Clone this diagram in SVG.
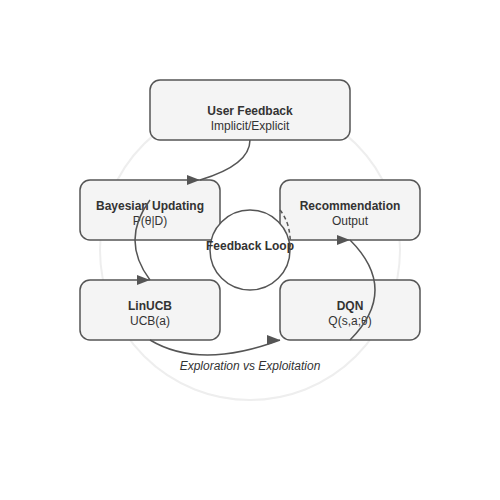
<svg xmlns="http://www.w3.org/2000/svg" width="500" height="500" viewBox="0 0 500 500">
<defs>
<style>
.box{fill:#f4f4f4;stroke:#555;stroke-width:1.5}
.t{font-family:"Liberation Sans",Arial,sans-serif;font-size:12px;fill:#333;text-anchor:middle}
.b{font-weight:bold}
.c{fill:none;stroke:#555;stroke-width:1.5}
</style>
<marker id="arr" markerUnits="userSpaceOnUse" markerWidth="14" markerHeight="10" refX="13" refY="5" orient="0">
<path d="M0,0 L13,5 L0,10 z" fill="#555"/>
</marker>
</defs>
<rect width="500" height="500" fill="#fff"/>
<circle cx="250" cy="250" r="150" fill="none" stroke="#eee" stroke-width="2"/>
<g id="user-feedback">
<rect class="box" x="150" y="80" width="200" height="60" rx="10"/>
<text class="t b" x="250" y="115">User Feedback</text>
<text class="t" x="250" y="130">Implicit/Explicit</text>
</g>
<g id="bayesian">
<rect class="box" x="80" y="180" width="140" height="60" rx="10"/>
<text class="t b" x="150" y="210">Bayesian Updating</text>
<text class="t" x="150" y="225">P(θ|D)</text>
</g>
<g id="recommendation">
<rect class="box" x="280" y="180" width="140" height="60" rx="10"/>
<text class="t b" x="350" y="210">Recommendation</text>
<text class="t" x="350" y="225">Output</text>
</g>
<g id="linucb">
<rect class="box" x="80" y="280" width="140" height="60" rx="10"/>
<text class="t b" x="150" y="310">LinUCB</text>
<text class="t" x="150" y="325">UCB(a)</text>
</g>
<g id="dqn">
<rect class="box" x="280" y="280" width="140" height="60" rx="10"/>
<text class="t b" x="350" y="310">DQN</text>
<text class="t" x="350" y="325">Q(s,a;θ)</text>
</g>
<g id="feedback-loop">
<circle cx="250" cy="250" r="40" fill="#fff" stroke="#555" stroke-width="1.5"/>
<text class="t b" x="250" y="250">Feedback Loop</text>
</g>
<g id="label">
<text class="t" x="250" y="370" font-style="italic">Exploration vs Exploitation</text>
</g>
<g id="connectors">
<path class="c" d="M250,140 Q250,165 200,180" marker-end="url(#arr)"/>
<path class="c" d="M150,200 Q120,240 150,280" marker-end="url(#arr)"/>
<path class="c" d="M150,340 Q200,370 280,340" marker-end="url(#arr)"/>
<path class="c" d="M350,340 Q400,290 350,240" marker-end="url(#arr)"/>
<path class="c" d="M280,210 Q292,225 290,250" stroke-dasharray="4,3"/>
</g>
</svg>
